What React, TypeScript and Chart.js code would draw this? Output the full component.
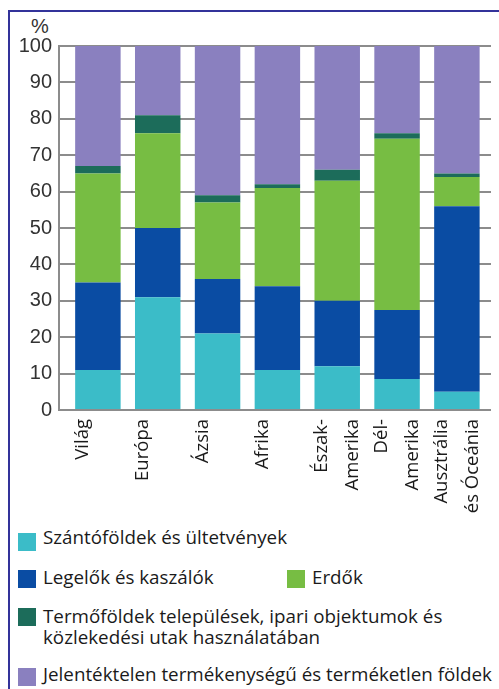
import React, { useEffect, useRef } from 'react';
import { Chart, registerables } from 'chart.js';

Chart.register(...registerables);

const categories: (string | string[])[] = [
  'Világ',
  'Európa',
  'Ázsia',
  'Afrika',
  ['Észak-', 'Amerika'],
  ['Dél-', 'Amerika'],
  ['Ausztrália', 'és Óceánia'],
];

const szantofoldek = [11, 31, 21, 11, 12, 8.5, 5];
const legelok = [24, 19, 15, 23, 18, 19, 51];
const erdok = [30, 26, 21, 27, 33, 47, 8];
const termofoldek = [2, 5, 2, 1, 3, 1.5, 1];
const jelentektelen = [33, 19, 41, 38, 34, 24, 35];

const seriesNames = [
  'Szántóföldek és ültetvények',
  'Legelők és kaszálók',
  'Erdők',
  'Termőföldek települések, ipari objektumok és\nközlekedési utak használatában',
  'Jelentéktelen termékenységű és terméketlen földek',
];

const yMin = 0;
const yMax = 100;
const yStep = 10;
const yUnit = '%';

const colors = ['#3bbcc8', '#0a4ca3', '#77bd43', '#1c6c5a', '#8a80bf'];

const frameColor = '#33339a';

export default function App() {
  const canvasRef = useRef<HTMLCanvasElement | null>(null);

  useEffect(() => {
    if (!canvasRef.current) return;
    const series = [szantofoldek, legelok, erdok, termofoldek, jelentektelen];
    const chart = new Chart(canvasRef.current, {
      type: 'bar',
      data: {
        datasets: series.map((vals, si) => ({
          label: seriesNames[si],
          data: vals.map((v, i) => ({ x: i, y: v })),
          backgroundColor: colors[si],
          borderWidth: 0,
          barPercentage: 0.76,
          categoryPercentage: 1,
        })),
      },
      options: {
        responsive: false,
        animation: false,
        layout: { padding: { top: 34, right: 8, left: 0, bottom: 2 } },
        plugins: {
          legend: { display: false },
          tooltip: { enabled: false },
          title: { display: false },
        },
        scales: {
          x: {
            type: 'linear',
            stacked: true,
            offset: false,
            min: -0.65,
            max: 6.57,
            grid: { display: false, drawTicks: false, offset: false },
            border: { display: false },
            afterBuildTicks: (scale: any) => {
              scale.ticks = categories.map((_, i) => ({ value: i }));
            },
            afterFit: (scale: any) => {
              scale.height = 112;
              scale.paddingLeft = 0;
              scale.paddingRight = 0;
            },
            ticks: {
              autoSkip: false,
              minRotation: 90,
              maxRotation: 90,
              padding: 9,
              labelOffset: -15,
              color: '#1a1a1a',
              font: { family: '"Open Sans"', size: 18.5, lineHeight: 1.65 },
              callback: (v: any) => categories[v as number] as any,
            },
          },
          y: {
            stacked: true,
            min: yMin,
            max: yMax,
            grid: { color: '#8c8c8c', lineWidth: 2, drawTicks: false },
            border: { display: true, color: '#8c8c8c', width: 2 },
            afterFit: (scale: any) => {
              scale.width = 49;
            },
            ticks: {
              stepSize: yStep,
              padding: 7,
              color: '#333',
              font: { family: '"Liberation Sans"', size: 20 },
            },
          },
        },
      },
    });
    return () => chart.destroy();
  }, []);

  const legendRows = [
    { idx: 0, left: 8, swTop: 521, txTop: 515 },
    { idx: 1, left: 8, swTop: 558, txTop: 555 },
    { idx: 2, left: 277, swTop: 558, txTop: 555 },
    { idx: 3, left: 8, swTop: 596, txTop: 594 },
    { idx: 4, left: 8, swTop: 656, txTop: 652 },
  ];

  return (
    <div
      style={{
        position: 'absolute',
        left: 8,
        top: 10,
        width: 491,
        height: 679,
        borderTop: `2px solid ${frameColor}`,
        borderLeft: `2px solid ${frameColor}`,
        boxSizing: 'border-box',
        overflow: 'hidden',
      }}
    >
      <div
        style={{
          position: 'absolute',
          left: 21,
          top: 3,
          fontFamily: '"Liberation Sans", Arial, sans-serif',
          fontSize: 20,
          color: '#333',
          lineHeight: '22px',
        }}
      >
        {yUnit}
      </div>
      <canvas
        ref={canvasRef}
        width={489}
        height={512}
        style={{ position: 'absolute', left: 0, top: 0, width: 489, height: 512 }}
      />
      {legendRows.map((r) => (
        <React.Fragment key={r.idx}>
          <div
            style={{
              position: 'absolute',
              left: r.left,
              top: r.swTop,
              width: 18,
              height: 18,
              background: colors[r.idx],
            }}
          />
          <div
            style={{
              position: 'absolute',
              left: r.left + 25,
              top: r.txTop,
              fontFamily: '"Open Sans", sans-serif',
              fontSize: 18.8,
              lineHeight: '21px',
              color: '#1a1a1a',
              whiteSpace: 'pre-line',
            }}
          >
            {seriesNames[r.idx]}
          </div>
        </React.Fragment>
      ))}
    </div>
  );
}
